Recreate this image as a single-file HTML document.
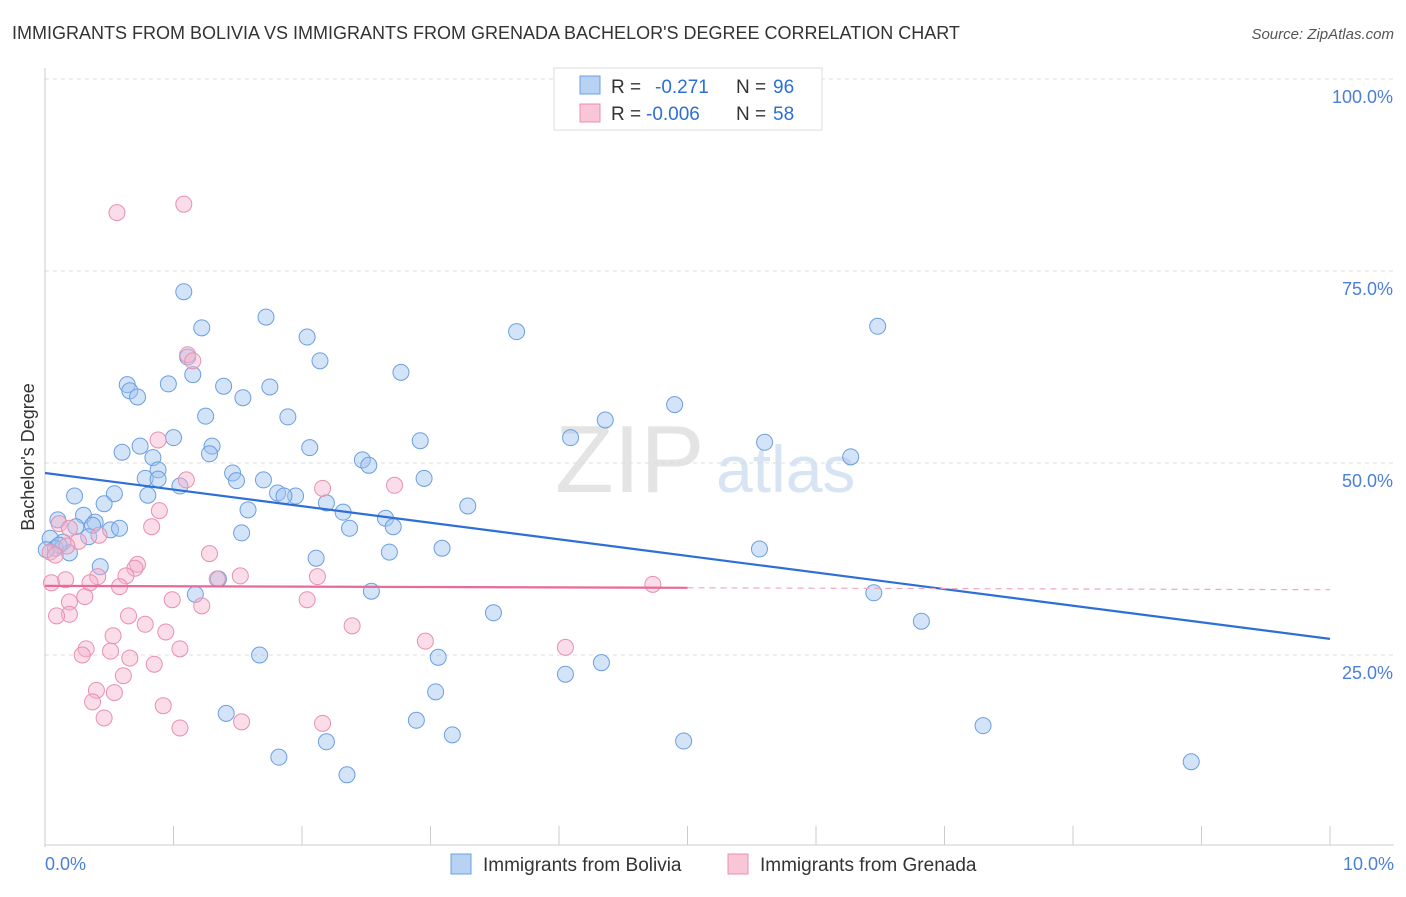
<!DOCTYPE html>
<html><head><meta charset="utf-8">
<style>
body{margin:0;background:#fff;font-family:"Liberation Sans",sans-serif;}
svg text{font-family:"Liberation Sans",sans-serif;}
</style></head>
<body>
<svg id="chart" width="1406" height="892" xmlns="http://www.w3.org/2000/svg">
<text x="12" y="39" font-size="18" fill="#333">IMMIGRANTS FROM BOLIVIA VS IMMIGRANTS FROM GRENADA BACHELOR'S DEGREE CORRELATION CHART</text>
<text x="1394" y="39" font-size="15" fill="#555" text-anchor="end" font-style="italic">Source: ZipAtlas.com</text>
<text x="555" y="492" font-size="96" fill="#e4e4e4" font-family="Liberation Serif">ZIP</text>
<text x="716" y="492" font-size="66" fill="#d6e4f4">atlas</text>
<text transform="translate(34,457) rotate(-90)" font-size="18" fill="#333" text-anchor="middle">Bachelor's Degree</text>
<g id="grid"></g>
<g id="marks"></g>
<g>
<rect x="554" y="68" width="268" height="62" fill="#fff" stroke="#ddd"/>
<rect x="580" y="76" width="20" height="18" fill="#b8d2f4" stroke="#6a9fe0"/>
<rect x="580" y="104" width="20" height="18" fill="#f8c6d6" stroke="#e890b0"/>
<text x="611" y="93" font-size="19" fill="#333">R =</text>
<text x="655" y="93" font-size="19" fill="#2d6fd6">-0.271</text>
<text x="736" y="93" font-size="19" fill="#333">N =</text>
<text x="773" y="93" font-size="19" fill="#2d6fd6">96</text>
<text x="611" y="120" font-size="19" fill="#333">R =</text>
<text x="646" y="120" font-size="19" fill="#2d6fd6">-0.006</text>
<text x="736" y="120" font-size="19" fill="#333">N =</text>
<text x="773" y="120" font-size="19" fill="#2d6fd6">58</text>
</g>
<g>
<rect x="451" y="854" width="20" height="20" fill="#b8d2f4" stroke="#6a9fe0"/>
<text x="483" y="871" font-size="19" fill="#333">Immigrants from Bolivia</text>
<rect x="728" y="854" width="20" height="20" fill="#f8c6d6" stroke="#e890b0"/>
<text x="760" y="871" font-size="19" fill="#333">Immigrants from Grenada</text>
</g>
</svg>
<script>
const yTicks=[25,50,75,100];
const yTickLabels=["25.0%","50.0%","75.0%","100.0%"];
const xTicks=[0,1,2,3,4,5,6,7,8,9,10];
const xEndLabels=["0.0%","10.0%"];
const boliviaX=[1.08,1.22,1.72,2.04,3.67,6.48,2.14,2.77,1.11,1.15,0.64,0.66,0.72,0.96,1.39,1.75,1.54,1.25,1.89,4.36,4.90,4.09,2.92,5.60,6.27,0.74,0.60,1.00,1.30,1.28,2.06,2.47,2.52,0.84,0.88,0.78,0.88,1.05,1.46,1.49,1.70,1.81,1.95,1.86,2.95,3.29,0.23,0.54,0.46,0.80,2.19,2.32,1.58,2.65,2.71,2.37,0.10,0.30,0.39,0.37,0.51,0.58,1.53,0.24,0.34,0.14,0.04,0.08,0.19,0.11,3.09,2.68,2.11,5.56,0.43,1.35,1.17,2.54,6.45,6.82,3.49,1.67,3.06,4.33,4.05,3.04,1.41,2.89,7.30,3.17,4.97,2.19,1.82,2.35,8.92,0.01];
const boliviaY=[72.3,67.6,69.0,66.4,67.1,67.8,63.3,61.8,63.8,61.5,60.2,59.4,58.6,60.3,60.0,59.9,58.5,56.1,56.0,55.6,57.6,53.3,52.9,52.7,50.8,52.2,51.4,53.3,52.2,51.2,52.0,50.4,49.7,50.7,49.1,48.0,47.9,47.0,48.7,47.7,47.8,46.1,45.7,45.7,48.0,44.4,45.7,46.0,44.7,45.8,44.8,43.6,43.9,42.8,41.7,41.5,42.6,43.2,42.3,41.9,41.3,41.5,40.9,41.7,40.4,39.7,40.2,38.9,38.3,39.3,38.9,38.4,37.6,38.8,36.5,34.9,32.9,33.3,33.1,29.4,30.5,25.0,24.7,24.0,22.5,20.2,17.4,16.5,15.8,14.6,13.8,13.7,11.7,9.4,11.1,38.7];
const grenadaX=[0.56,1.08,1.11,1.15,0.88,1.10,0.89,2.16,2.72,0.11,0.19,0.83,0.26,0.42,0.17,0.04,0.08,1.28,0.72,0.70,0.63,0.41,0.16,0.35,0.05,1.52,2.12,1.34,4.73,0.58,0.31,0.19,0.99,2.04,1.22,0.19,0.09,0.65,0.78,2.39,0.94,0.53,2.96,4.05,0.32,1.05,0.51,0.66,0.29,0.85,0.61,0.40,0.54,0.37,0.92,0.46,1.53,2.16,1.05];
const grenadaY=[82.6,83.7,64.1,63.3,53.0,47.8,43.8,46.7,47.1,42.1,41.5,41.7,39.8,40.6,39.2,38.4,38.0,38.2,36.8,36.3,35.3,35.2,34.8,34.4,34.4,35.3,35.2,34.9,34.2,33.9,32.6,31.9,32.2,32.2,31.4,30.3,30.1,30.1,29.0,28.8,28.0,27.5,26.8,26.0,25.8,25.8,25.5,24.6,25.0,23.8,22.3,20.4,20.1,18.9,18.4,16.8,16.3,16.1,15.5];
const boliviaTrend=[48.7,27.1];
const grenadaTrend=[34.0,33.5];

const NS="http://www.w3.org/2000/svg";
const X0=45,X1=1330,Y0=847,Y100=79;
function xs(v){return X0+(X1-X0)*v/10;}
function ys(v){return Y0-(Y0-Y100)*v/100;}
function mk(t,a,p){const e=document.createElementNS(NS,t);for(const k in a)e.setAttribute(k,a[k]);p.appendChild(e);return e;}
const grid=document.getElementById('grid'),marks=document.getElementById('marks');
yTicks.forEach((t,i)=>{
  const l=mk('line',{x1:X0,x2:1394,y1:ys(t),y2:ys(t),stroke:'#ddd','stroke-dasharray':'4,4'},grid);
  
  
  const tx=mk('text',{x:1393,y:ys(t)+24,'font-size':18,fill:'#4a7fd8','text-anchor':'end'},grid);
  tx.textContent=yTickLabels[i];
  
  
});
const ax=mk('line',{x1:X0,x2:X0,y1:68,y2:Y0,stroke:'#ccc'},grid);


const bx=mk('line',{x1:X0,x2:1394,y1:845,y2:845,stroke:'#ccc'},grid);


xTicks.forEach(t=>{
  const l=mk('line',{x1:xs(t),x2:xs(t),y1:826,y2:845,stroke:'#ccc'},grid);
  
  
});
[[0,'start',45],[10,'end',1394]].forEach((d,i)=>{
  const tx=mk('text',{x:d[2],y:870,'font-size':18,fill:'#4a7fd8','text-anchor':d[1]},grid);
  tx.textContent=xEndLabels[i];
  
  
});
boliviaX.forEach((x,i)=>{
  const c=mk('circle',{cx:xs(x),cy:ys(boliviaY[i]),r:8,fill:'rgba(160,195,240,0.45)',stroke:'#6a9fe0','stroke-width':1},marks);
  
  
});
grenadaX.forEach((x,i)=>{
  const c=mk('circle',{cx:xs(x),cy:ys(grenadaY[i]),r:8,fill:'rgba(245,180,205,0.45)',stroke:'#e890b0','stroke-width':1},marks);
  
  
});
const bt=mk('line',{x1:xs(0),y1:ys(boliviaTrend[0]),x2:xs(10),y2:ys(boliviaTrend[1]),stroke:'#2d6fd6','stroke-width':2.2},marks);


const gm=grenadaTrend[0]+(grenadaTrend[1]-grenadaTrend[0])*0.5;
const gt=mk('line',{x1:xs(0),y1:ys(grenadaTrend[0]),x2:xs(5),y2:ys(gm),stroke:'#e86a98','stroke-width':2.2},marks);


const gd=mk('line',{x1:xs(5),y1:ys(gm),x2:xs(10),y2:ys(grenadaTrend[1]),stroke:'#f0a8c0','stroke-width':1.2,'stroke-dasharray':'6,5'},marks);


</script>
</body></html>
